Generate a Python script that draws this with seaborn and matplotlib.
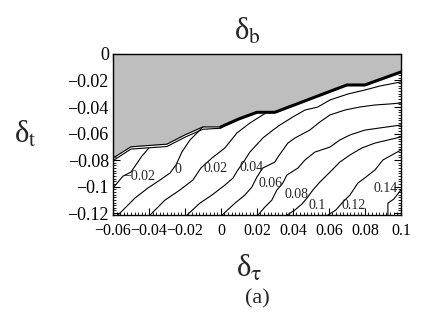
import pandas as pd
import matplotlib
matplotlib.use('Agg')
import matplotlib.pyplot as plt
from matplotlib.ticker import MultipleLocator, FixedLocator, FixedFormatter
import seaborn as sns

sns.set_style('ticks')
plt.rcParams['font.family'] = ['Liberation Serif', 'DejaVu Serif']
plt.rcParams['mathtext.fontset'] = 'stix'

# excluded (gray) region: lower edge
bnd_x = [-0.06, -0.05, -0.03, -0.02, -0.01, 0.0, 0.01, 0.02, 0.03, 0.07, 0.08, 0.097, 0.1]
bnd_y = [-0.0785, -0.070, -0.068, -0.061, -0.055, -0.055, -0.049, -0.044, -0.044,
         -0.0234, -0.0234, -0.0151, -0.0136]
# second thin line just under the edge
dbl_x = [-0.06, -0.05, -0.03, -0.02, -0.01, 0.0]
dbl_y = [-0.0805, -0.0717, -0.0698, -0.0628, -0.0568, -0.0560]

# contour lines
m002_x = [-0.06, -0.0544, -0.050, -0.0439, -0.040]
m002_y = [-0.1011, -0.0921, -0.0891, -0.0770, -0.0709]
c000_x = [-0.0572, -0.0478, -0.0406, -0.0339, -0.0283, -0.0250, -0.0217, -0.0172, -0.0133, -0.0100]
c000_y = [-0.1215, -0.1087, -0.1011, -0.0951, -0.0898, -0.0838, -0.0740, -0.0649, -0.0596, -0.0551]
c002_x = [-0.0394, -0.0311, -0.0228, -0.0156, -0.0111, -0.0050, 0.0022, 0.0089, 0.0161, 0.0250]
c002_y = [-0.1215, -0.1102, -0.1026, -0.0951, -0.0860, -0.0785, -0.0709, -0.0596, -0.0521, -0.0445]
c004_x = [-0.0189, -0.0117, -0.0050, 0.0022, 0.0067, 0.0094, 0.0133, 0.0161, 0.0233, 0.0289,
          0.0328, 0.0400, 0.0467, 0.0539, 0.0606, 0.0706, 0.0800, 0.0883, 0.1000]
c004_y = [-0.1215, -0.1125, -0.1064, -0.0989, -0.0936, -0.0875, -0.0800, -0.0740, -0.0634, -0.0574,
          -0.0536, -0.0475, -0.0423, -0.0400, -0.0347, -0.0302, -0.0272, -0.0242, -0.0211]
c006_x = [0.0006, 0.0078, 0.0133, 0.0172, 0.0200, 0.0233, 0.0300, 0.0317, 0.0372, 0.0411,
          0.0494, 0.0550, 0.0606, 0.0689, 0.0772, 0.0856, 0.0939, 0.1000]
c006_y = [-0.1215, -0.1125, -0.1064, -0.1004, -0.0928, -0.0860, -0.0815, -0.0777, -0.0672, -0.0634,
          -0.0574, -0.0513, -0.0460, -0.0423, -0.0400, -0.0385, -0.0377, -0.0370]
c008_x = [0.0206, 0.0244, 0.0283, 0.0311, 0.0344, 0.0367, 0.0428, 0.0467, 0.0522, 0.0606,
          0.0661, 0.0717, 0.0800, 0.0883, 0.1000]
c008_y = [-0.1215, -0.1155, -0.1102, -0.1026, -0.0974, -0.0913, -0.0860, -0.0800, -0.0740, -0.0702,
          -0.0649, -0.0611, -0.0574, -0.0558, -0.0536]
c010_x = [0.0367, 0.0411, 0.0450, 0.0483, 0.0511, 0.0550, 0.0606, 0.0661, 0.0717, 0.0783,
          0.0856, 0.0928, 0.1000]
c010_y = [-0.1215, -0.1177, -0.1132, -0.1079, -0.1026, -0.0966, -0.0891, -0.0815, -0.0762, -0.0709,
          -0.0672, -0.0649, -0.0626]
c012_x = [0.0594, 0.0639, 0.0672, 0.0717, 0.0761, 0.0806, 0.0856, 0.0900, 0.0950, 0.1000]
c012_y = [-0.1215, -0.1177, -0.1125, -0.1064, -0.0974, -0.0928, -0.0875, -0.0800, -0.0762, -0.0725]
c014_x = [0.0928, 0.0928, 0.0961, 0.1000]
c014_y = [-0.1215, -0.1125, -0.1094, -0.1026]

levels = ['\u22120.02', '0', '0.02', '0.04', '0.06', '0.08', '0.1', '0.12', '0.14']
label_x = [-0.0456, -0.0239, -0.0028, 0.0172, 0.0278, 0.0422, 0.0533, 0.0740, 0.0917]
label_y = [-0.0921, -0.0868, -0.0860, -0.0853, -0.0974, -0.1057, -0.1140, -0.1140, -0.1011]

xticks = [-0.06, -0.04, -0.02, 0, 0.02, 0.04, 0.06, 0.08, 0.1]
xticklabels = ['\u22120.06', '\u22120.04', '\u22120.02', '0', '0.02', '0.04', '0.06', '0.08', '0.1']
yticks = [0, -0.02, -0.04, -0.06, -0.08, -0.1, -0.12]
yticklabels = ['0', '\u22120.02', '\u22120.04', '\u22120.06', '\u22120.08', '\u22120.1', '\u22120.12']

all_x = [m002_x, c000_x, c002_x, c004_x, c006_x, c008_x, c010_x, c012_x, c014_x]
all_y = [m002_y, c000_y, c002_y, c004_y, c006_y, c008_y, c010_y, c012_y, c014_y]
frames = []
for lev, xs, ys in zip(levels, all_x, all_y):
    frames.append(pd.DataFrame({'level': lev, 'x': xs, 'y': ys}))
df = pd.concat(frames, ignore_index=True)

fig = plt.figure(figsize=(4.31, 3.23), dpi=100)
ax = fig.add_axes([0.262, 0.334, 0.668, 0.499])

ax.fill_between(bnd_x, bnd_y, 0, color='#bebebe', lw=0)
sns.lineplot(data=df, x='x', y='y', units='level', estimator=None, sort=False,
             color='black', lw=0.8, ax=ax)
sns.lineplot(x=bnd_x[:6], y=bnd_y[:6], sort=False, color='black', lw=0.8, ax=ax)
sns.lineplot(x=dbl_x, y=dbl_y, sort=False, color='black', lw=0.8, ax=ax)
sns.lineplot(x=bnd_x[5:], y=bnd_y[5:], sort=False, color='black', lw=2.2, ax=ax)

for lev, lx, ly in zip(levels, label_x, label_y):
    ax.text(lx, ly, lev, fontsize=10, ha='center', va='center')

ax.set_xlim(-0.06, 0.1)
ax.set_ylim(-0.1215, 0)
ax.xaxis.set_major_locator(FixedLocator(xticks))
ax.xaxis.set_major_formatter(FixedFormatter(xticklabels))
ax.yaxis.set_major_locator(FixedLocator(yticks))
ax.yaxis.set_major_formatter(FixedFormatter(yticklabels))
ax.xaxis.set_minor_locator(MultipleLocator(0.002))
ax.yaxis.set_minor_locator(MultipleLocator(0.002))
ax.tick_params(which='both', direction='in', top=True, right=True, color='black',
               labelcolor='black')
ax.tick_params(axis='x', labelsize=11.5)
ax.tick_params(axis='y', labelsize=13)
ax.tick_params(which='major', length=5, width=0.8)
ax.tick_params(which='minor', length=2.5, width=0.6)
ax.tick_params(axis='x', pad=6)
ax.tick_params(axis='y', pad=3)
for sp in ax.spines.values():
    sp.set_color('black')
    sp.set_linewidth(1)
ax.set_xlabel('')
ax.set_ylabel('')

fig.text(0.573, 0.876, 'δ$_\\mathrm{b}$', fontsize=22, ha='center', va='baseline')
fig.text(0.032, 0.557, 'δ$_\\mathrm{t}$', fontsize=22, ha='left', va='baseline')
fig.text(0.578, 0.142, 'δ$_\\mathrm{τ}$', fontsize=22, ha='center', va='baseline')
fig.text(0.598, 0.075, '(a)', fontsize=16, ha='center', va='center')

fig.savefig('out.png', dpi=100)
